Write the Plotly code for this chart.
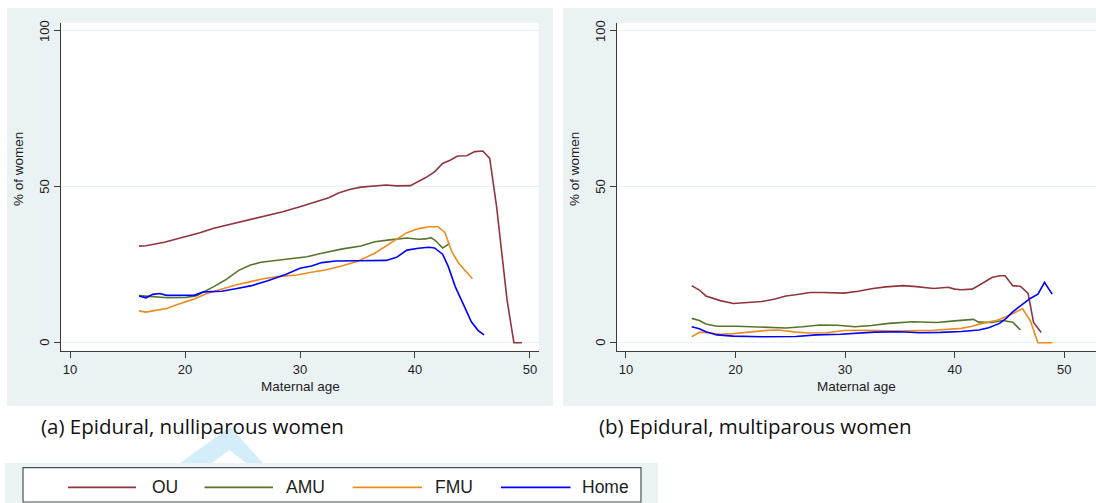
import plotly.graph_objects as go

# ---- data: epidural use (% of women) by maternal age and planned place of birth ----
series_names = ["OU", "AMU", "FMU", "Home"]
series_colors = ["#90353B", "#55752F", "#EC8B1E", "#0000FF"]

# (a) nulliparous women
ou_nul_age = [16.0, 16.6, 18.2, 20.1, 21.3, 22.5, 24.1, 25.7, 26.9, 28.5, 30.0, 31.3, 32.5,
              33.4, 34.4, 35.3, 36.5, 37.5, 38.4, 39.6, 40.9, 41.7, 42.4, 43.1, 43.7, 44.5,
              45.2, 45.9, 46.5, 47.1, 48.0, 48.6, 49.3]
ou_nul = [31.0, 31.1, 32.2, 34.0, 35.3, 36.7, 38.1, 39.4, 40.6, 42.0, 43.6, 45.0, 46.5,
          48.1, 49.2, 49.9, 50.4, 50.6, 50.3, 50.4, 52.9, 54.8, 57.5, 58.6, 59.9, 60.0,
          61.3, 61.5, 59.1, 43.6, 13.9, 0.0, 0.0]

amu_nul_age = [16.0, 17.0, 18.5, 20.1, 21.0, 22.5, 23.5, 24.7, 25.7, 26.6, 28.5, 29.4, 30.6,
               31.9, 32.8, 33.7, 35.3, 36.5, 37.8, 39.3, 40.3, 40.9, 41.4, 41.8, 42.4, 43.0]
amu_nul = [15.1, 14.9, 14.4, 14.5, 15.1, 18.0, 20.1, 23.3, 24.9, 25.8, 26.6, 27.1, 27.6,
           28.7, 29.5, 30.1, 31.0, 32.4, 33.0, 33.6, 33.2, 33.3, 33.7, 32.7, 30.4, 31.8]

fmu_nul_age = [16.0, 16.6, 17.3, 18.4, 19.4, 20.7, 21.9, 23.2, 24.4, 25.7, 26.9, 28.1, 29.7,
               31.0, 32.2, 33.7, 35.0, 36.5, 37.5, 38.4, 39.3, 40.3, 41.2, 42.0, 42.6, 43.2,
               43.8, 45.0]
fmu_nul = [10.2, 9.8, 10.3, 11.0, 12.3, 13.9, 15.8, 17.2, 18.5, 19.6, 20.6, 21.2, 21.7,
           22.6, 23.3, 24.7, 26.1, 28.7, 31.0, 33.2, 35.3, 36.6, 37.2, 37.2, 35.4, 29.2,
           25.5, 20.5]

home_nul_age = [16.0, 16.6, 17.2, 17.8, 18.4, 19.4, 20.8, 21.6, 23.2, 24.4, 25.8, 27.2, 28.8,
                30.0, 31.0, 31.9, 33.1, 35.0, 36.5, 37.5, 38.4, 39.3, 40.3, 41.2, 41.7, 42.4,
                42.9, 43.5, 44.3, 44.9, 45.5, 46.0]
home_nul = [15.0, 14.4, 15.5, 15.8, 15.2, 15.1, 15.2, 16.3, 16.5, 17.3, 18.3, 19.9, 22.0,
            23.9, 24.6, 25.7, 26.2, 26.3, 26.3, 26.4, 27.4, 29.7, 30.3, 30.6, 30.4, 28.4,
            24.4, 18.0, 11.6, 6.7, 3.9, 2.5]

# (b) multiparous women
ou_mul_age = [16.0, 16.7, 17.3, 18.6, 19.8, 21.1, 22.4, 23.6, 24.6, 25.5, 26.8, 28.0, 29.9,
              31.2, 32.4, 33.7, 35.3, 36.5, 38.1, 39.4, 40.0, 40.6, 41.6, 42.5, 43.4, 44.1,
              44.6, 45.3, 46.0, 46.7, 47.2, 47.9]
ou_mul = [18.3, 16.9, 15.0, 13.5, 12.6, 12.8, 13.2, 14.0, 15.0, 15.4, 16.1, 16.1, 15.9,
          16.5, 17.3, 17.9, 18.3, 18.0, 17.4, 17.8, 17.2, 17.0, 17.2, 19.0, 20.9, 21.5,
          21.5, 18.3, 18.1, 15.8, 6.5, 3.3]

amu_mul_age = [16.0, 16.7, 17.3, 18.3, 20.2, 22.4, 23.6, 24.6, 26.1, 27.7, 29.3, 30.9, 32.4,
               34.0, 36.2, 38.4, 40.0, 41.2, 41.7, 42.2, 43.4, 44.4, 45.3, 46.0]
amu_mul = [7.8, 7.1, 6.0, 5.3, 5.3, 4.9, 4.8, 4.7, 5.1, 5.7, 5.6, 5.1, 5.5,
           6.2, 6.7, 6.5, 7.0, 7.5, 7.5, 6.6, 6.5, 7.1, 6.6, 4.1]

fmu_mul_age = [16.0, 16.7, 17.3, 18.6, 19.8, 21.4, 23.0, 23.9, 25.5, 26.8, 28.3, 29.9, 31.8,
               35.0, 38.1, 40.6, 41.6, 42.5, 43.8, 44.7, 45.6, 46.2, 46.9, 47.6, 48.9]
fmu_mul = [1.9, 3.3, 3.3, 2.7, 2.9, 3.5, 4.0, 4.1, 3.4, 3.1, 3.2, 3.9, 4.0,
           3.7, 4.0, 4.6, 5.3, 6.2, 7.1, 8.3, 9.9, 10.9, 7.1, 0.0, 0.0]

home_mul_age = [16.0, 16.7, 17.3, 18.3, 19.8, 22.4, 25.5, 27.4, 29.6, 31.2, 32.7, 35.0, 36.8,
                38.7, 40.6, 42.2, 43.1, 44.1, 44.7, 45.3, 46.3, 46.9, 47.6, 48.2, 48.9]
home_mul = [5.1, 4.5, 3.5, 2.5, 2.1, 1.9, 2.0, 2.5, 2.7, 3.0, 3.4, 3.5, 3.2,
            3.3, 3.6, 4.1, 4.8, 6.2, 7.8, 9.9, 12.6, 14.2, 15.6, 19.4, 15.6]

panel_captions = ["(a) Epidural, nulliparous women", "(b) Epidural, multiparous women"]
x_title = "Maternal age"
y_title = "% of women"
x_ticks = [10, 20, 30, 40, 50]
y_ticks = [0, 50, 100]

W, H = 1096, 503
BG = "#EAF2F3"
AXIS = "#3c3c3c"
TXT = "#1e1e1e"


def px(x):
    return x / W


def py(y):
    return 1 - y / H


panels = [
    {"xaxis": "x", "yaxis": "y",
     "series": [(ou_nul_age, ou_nul), (amu_nul_age, amu_nul),
                (fmu_nul_age, fmu_nul), (home_nul_age, home_nul)]},
    {"xaxis": "x2", "yaxis": "y2",
     "series": [(ou_mul_age, ou_mul), (amu_mul_age, amu_mul),
                (fmu_mul_age, fmu_mul), (home_mul_age, home_mul)]},
]

fig = go.Figure()
for panel in panels:
    for name, color, (ages, vals) in zip(series_names, series_colors, panel["series"]):
        fig.add_trace(go.Scatter(
            x=ages, y=vals, mode="lines", name=name,
            line=dict(color=color, width=1.6),
            xaxis=panel["xaxis"], yaxis=panel["yaxis"], showlegend=False,
        ))

# plot-region geometry (pixels)
y_top, y_bot = 22.7, 351.0
left_l, left_r = 61.4, 538.6
right_l, right_r = 617.4, 1096.0
ydom = [py(y_bot), py(y_top)]

axis_font = dict(family="Liberation Sans, Arial, sans-serif", size=13, color=TXT)
common_x = dict(showline=True, linecolor=AXIS, linewidth=1.2, ticks="outside",
                ticklen=6, tickcolor=AXIS, tickwidth=1.2, tickvals=x_ticks,
                showgrid=False, zeroline=False, tickfont=axis_font)
# y tick labels are drawn as rotated annotations placed on the y scale
common_y = dict(showline=True, linecolor=AXIS, linewidth=1.2, ticks="outside",
                ticklen=6, tickcolor=AXIS, tickwidth=1.2, tickvals=y_ticks,
                showticklabels=False,
                showgrid=True, gridcolor=BG, gridwidth=1.2, zeroline=False,
                range=[-2.66, 102.66], domain=ydom)

fig.update_layout(
    width=W, height=H,
    margin=dict(l=0, r=0, t=0, b=0),
    paper_bgcolor="white", plot_bgcolor="white",
    xaxis=dict(common_x, domain=[px(left_l), px(left_r)], range=[9.25, 50.75], anchor="y"),
    yaxis=dict(common_y, anchor="x"),
    xaxis2=dict(common_x, domain=[px(right_l), 1.0], range=[9.22, 52.9], anchor="y2"),
    yaxis2=dict(common_y, anchor="x2"),
    showlegend=False,
)

shapes = []
# panel backgrounds
for x0, x1 in [(7, 553), (563, 1096)]:
    shapes.append(dict(type="rect", xref="paper", yref="paper", x0=px(x0), x1=px(x1),
                       y0=py(406), y1=py(8), fillcolor=BG, line=dict(width=0), layer="below"))
# white plot regions
for x0, x1 in [(left_l, left_r), (right_l, right_r)]:
    shapes.append(dict(type="rect", xref="paper", yref="paper", x0=px(x0), x1=px(x1),
                       y0=py(y_bot), y1=py(y_top), fillcolor="white", line=dict(width=0),
                       layer="below"))
# light blue chevron behind the first caption
chev = [(180, 463), (230, 427), (263, 463), (246, 463), (229, 450), (212, 463)]
path = "M " + " L ".join(f"{px(a):.5f},{py(b):.5f}" for a, b in chev) + " Z"
shapes.append(dict(type="path", xref="paper", yref="paper", path=path,
                   fillcolor="#D4EEF9", line=dict(width=0), layer="below"))
# legend band and box
shapes.append(dict(type="rect", xref="paper", yref="paper", x0=px(5), x1=px(658),
                   y0=0, y1=py(463), fillcolor=BG, line=dict(width=0), layer="below"))
shapes.append(dict(type="rect", xref="paper", yref="paper", x0=px(23), x1=px(641),
                   y0=py(502), y1=py(467.7), fillcolor="white",
                   line=dict(color="#505050", width=1.2), layer="below"))

# legend entries
legend_lines = [(68, 136), (204.5, 273), (352.7, 422), (501, 570.5)]
legend_text_x = [149.6, 284, 433, 580]
annotations = []
for name, color, (l0, l1), tx in zip(series_names, series_colors, legend_lines, legend_text_x):
    shapes.append(dict(type="line", xref="paper", yref="paper", x0=px(l0), x1=px(l1),
                       y0=py(487.3), y1=py(487.3), line=dict(color=color, width=1.8)))
    annotations.append(dict(text=name, xref="paper", yref="paper", x=px(tx), y=py(487.3),
                            xanchor="left", yanchor="middle", showarrow=False,
                            font=dict(family="Liberation Sans, Arial, sans-serif",
                                      size=17.5, color=TXT)))

# rotated y tick labels
for yref, lx in [("y", 45), ("y2", 601)]:
    for t in y_ticks:
        annotations.append(dict(text=str(t), xref="paper", yref=yref, x=px(lx), y=t,
                                xanchor="center", yanchor="middle", showarrow=False,
                                textangle=-90, font=axis_font))

# axis titles
title_font = dict(family="Liberation Sans, Arial, sans-serif", size=13.5, color=TXT)
for cx in [(left_l + left_r) / 2, (right_l + right_r) / 2]:
    annotations.append(dict(text=x_title, xref="paper", yref="paper", x=px(cx), y=py(386.5),
                            xanchor="center", yanchor="middle", showarrow=False,
                            font=title_font))
for cx in [19, 575]:
    annotations.append(dict(text=y_title, xref="paper", yref="paper", x=px(cx), y=py(169),
                            xanchor="center", yanchor="middle", showarrow=False,
                            textangle=-90, font=title_font))

# panel captions
for cap, cx in zip(panel_captions, [38.5, 597]):
    annotations.append(dict(text=cap, xref="paper", yref="paper", x=px(cx), y=py(426),
                            xanchor="left", yanchor="middle", showarrow=False,
                            font=dict(family="Open Sans, sans-serif", size=20.5,
                                      color="#111111")))

fig.update_layout(shapes=shapes, annotations=annotations)
fig.write_html("out.html")
